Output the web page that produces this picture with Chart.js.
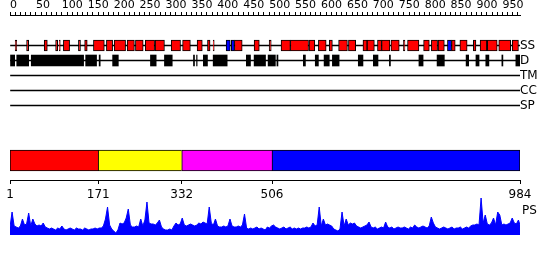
<!DOCTYPE html>
<html><head><meta charset="utf-8">
<script src="https://cdn.jsdelivr.net/npm/chart.js@4.4.1/dist/chart.umd.min.js"></script>
<style>
html,body{margin:0;padding:0;background:#fff;}
#wrap{position:relative;width:550px;height:260px;overflow:hidden;background:#fff;}
canvas{position:absolute;left:0;}
</style></head><body>
<div id="wrap">
<canvas id="tracks" width="550" height="115" style="top:0px"></canvas>
<canvas id="domains" width="550" height="70" style="top:140px"></canvas>
<canvas id="ps" width="550" height="45" style="top:195px"></canvas>
</div>
<script>
// ---------- data ----------
const SEQ_LEN = 984;
const TRACK_LABELS = ['SS', 'D', 'TM', 'CC', 'SP'];
const RULER_LABELS = [0, 50, 100, 150, 200, 250, 300, 350, 400, 450, 500, 550, 600, 650, 700, 750, 800, 850, 900, 950];
const RULER_MINOR_STEP = 10;

const SS_HELIX = [[10,13],[32,36],[66,72],[88,92],[95,97],[103,115],[132,136],[144,149],[161,182],[186,198],[201,223],[226,240],[242,257],[261,279],[280,298],[311,329],[333,348],[361,371],[381,386],[392,394],[433,448],[471,481],[500,504],[523,541],[541,576],[577,588],[595,610],[616,622],[634,651],[653,667],[681,689],[689,703],[709,717],[717,733],[735,751],[759,762],[767,789],[798,809],[813,825],[826,838],[852,859],[868,882],[894,899],[907,920],[921,940],[943,966],[969,981]];
const SS_STRAND = [[417,425],[427,433],[844,852]];
const DISORDER = [[1,9],[13,36],[41,142],[146,167],[172,174],[198,209],[271,282],[298,313],[354,356],[360,361],[373,381],[392,419],[456,464],[471,493],[498,512],[515,517],[566,570],[589,595],[606,616],[622,635],[672,681],[701,710],[732,734],[789,797],[824,838],[880,885],[899,905],[918,924],[949,951],[976,984]];

const DOMAIN_STARTS = [1, 171, 332, 506];
const DOMAIN_ENDS = [171, 332, 506, 984];
const DOMAIN_COLORS = ['#ff0000', '#ffff00', '#ff00ff', '#0000ff'];
const DOMAIN_TICKS = [1, 171, 332, 506, 984];

const PS_LABEL = 'PS';
const PS_STEP = 4;
const PS_VALUES = [
 8,23,9,8,7,9,16,10,11,22,
 9,16,11,9,10,9,12,8,7,6,
 7,6,5,7,6,9,6,5,6,7,
 6,5,7,6,6,5,7,6,5,6,
 6,7,6,7,7,9,16,28,10,6,
 4,2,5,12,11,12,17,26,10,8,
 8,9,8,16,9,15,33,12,11,11,
 10,12,15,8,6,5,5,6,5,9,
 12,10,11,17,10,9,10,11,10,9,
 10,12,11,13,12,11,28,12,10,16,
 9,8,8,9,8,9,16,9,8,8,
 9,8,10,21,7,6,7,6,7,8,
 6,7,6,5,8,7,9,10,8,7,
 6,7,8,6,7,8,6,7,6,7,
 6,7,7,8,7,8,12,9,10,28,
 9,16,10,11,10,9,6,5,4,6,
 23,9,16,10,12,11,12,9,8,7,
 8,9,10,13,8,7,8,6,7,8,
 7,13,8,7,8,6,7,8,7,7,
 8,7,6,8,7,10,8,7,8,9,
 8,7,9,18,12,8,7,6,7,8,
 7,6,7,8,6,7,7,8,6,7,
 8,7,9,10,10,11,10,37,12,20,
 11,10,12,17,10,23,20,10,11,10,
 11,12,17,12,11,15,10
];

// ---------- common ----------
Chart.defaults.font.family = 'DejaVu Sans';
Chart.defaults.color = '#000';
const FONT_S = {family: 'DejaVu Sans', size: 11};
const FONT_M = {family: 'DejaVu Sans', size: 12};
const base = {
  responsive: false, animation: false, devicePixelRatio: 1,
  plugins: {legend: {display: false}, tooltip: {enabled: false}}
};
const noPad = s => { s.paddingLeft = 0; s.paddingRight = 0; s.paddingTop = 0; s.paddingBottom = 0; };

// ---------- tracks + ruler ----------
const rulerTicks = [];
for (let v = 0; v <= SEQ_LEN; v += RULER_MINOR_STEP) rulerTicks.push(v);
const seg = (arr, row) => arr.map(([a, b]) => ({x: [a, b], y: row}));

new Chart(document.getElementById('tracks'), {
  type: 'bar',
  data: {datasets: [
    {data: TRACK_LABELS.map((_, k) => ({x: [1, SEQ_LEN], y: k})), backgroundColor: '#000', borderWidth: 0, barThickness: 1, grouped: false, order: 5},
    {data: seg(SS_HELIX, 0), backgroundColor: '#ff0000', borderColor: '#000', borderWidth: 1, borderSkipped: false, barThickness: 11, grouped: false, order: 1},
    {data: seg(SS_STRAND, 0), backgroundColor: '#0000ff', borderColor: '#000', borderWidth: 1, borderSkipped: false, barThickness: 11, grouped: false, order: 1},
    {data: seg(DISORDER, 1), backgroundColor: '#000', borderWidth: 0, barThickness: 11, grouped: false, order: 1}
  ]},
  options: Object.assign({}, base, {
    indexAxis: 'y',
    layout: {padding: {left: 10, right: 0, top: 0, bottom: 0}},
    scales: {
      x: {
        type: 'linear', position: 'top', min: 0, max: SEQ_LEN, offset: false,
        afterBuildTicks: s => { s.ticks = rulerTicks.map(v => ({value: v})); },
        ticks: {autoSkip: false, maxRotation: 0, padding: 0, font: FONT_S, align: 'start',
          callback: v => RULER_LABELS.includes(v) ? String(v) : ''},
        grid: {display: true, drawOnChartArea: false, drawTicks: true, tickLength: 3, color: '#000', lineWidth: 1, offset: false},
        border: {display: true, color: '#000', width: 1},
        afterFit: s => { s.height = 15; noPad(s); }
      },
      y: {
        type: 'linear', position: 'right', reverse: true, min: -2.0333, max: 4.6333, offset: false,
        afterBuildTicks: s => { s.ticks = TRACK_LABELS.map((_, k) => ({value: k})); },
        ticks: {padding: 0, font: FONT_M, callback: v => TRACK_LABELS[v]},
        grid: {display: false, drawTicks: false, offset: false},
        border: {display: false},
        afterFit: s => { s.width = 30; noPad(s); }
      }
    }
  })
});

// ---------- domains ----------
const lastDomain = DOMAIN_STARTS.length - 1;
new Chart(document.getElementById('domains'), {
  type: 'bar',
  data: {datasets: [{
    data: DOMAIN_STARTS.map((s, i) => ({x: [s, DOMAIN_ENDS[i]], y: 19.5})),
    backgroundColor: DOMAIN_COLORS, borderColor: '#000',
    borderWidth: ctx => ctx.dataIndex === lastDomain ? 1 : {top: 1, bottom: 1, left: 1, right: 0},
    borderSkipped: false,
    barThickness: 21, grouped: false
  }]},
  options: Object.assign({}, base, {
    indexAxis: 'y',
    layout: {padding: {left: 10, right: 30, top: 0, bottom: 0}},
    scales: {
      x: {
        type: 'linear', position: 'bottom', min: 1, max: SEQ_LEN,
        afterBuildTicks: s => { s.ticks = DOMAIN_TICKS.map(v => ({value: v})); },
        ticks: {autoSkip: false, maxRotation: 0, padding: 4, font: FONT_M, callback: v => String(v)},
        grid: {display: true, drawOnChartArea: false, drawTicks: true, tickLength: 4, color: '#000'},
        border: {display: true, color: '#000'},
        afterFit: s => { s.height = 30; noPad(s); }
      },
      y: {type: 'linear', min: 0, max: 40, display: false, offset: false}
    }
  })
});

// ---------- PS profile ----------
new Chart(document.getElementById('ps'), {
  type: 'line',
  data: {datasets: [{
    data: PS_VALUES.map((v, i) => ({x: Math.min(1 + i * PS_STEP, SEQ_LEN), y: v})),
    borderColor: '#0000ff', backgroundColor: '#0000ff', borderWidth: 1,
    fill: 'origin', pointRadius: 0, tension: 0
  }]},
  options: Object.assign({}, base, {
    layout: {padding: {left: 10, right: 0, top: 0, bottom: 5}},
    scales: {
      x: {type: 'linear', min: 1, max: SEQ_LEN, display: false},
      y: {
        type: 'linear', position: 'right', min: 0, max: 40,
        afterBuildTicks: s => { s.ticks = [{value: 24}]; },
        ticks: {padding: 2, font: FONT_M, callback: () => PS_LABEL},
        grid: {display: false, drawTicks: false},
        border: {display: false},
        afterFit: s => { s.width = 30; noPad(s); }
      }
    }
  })
});
</script>
</body></html>
